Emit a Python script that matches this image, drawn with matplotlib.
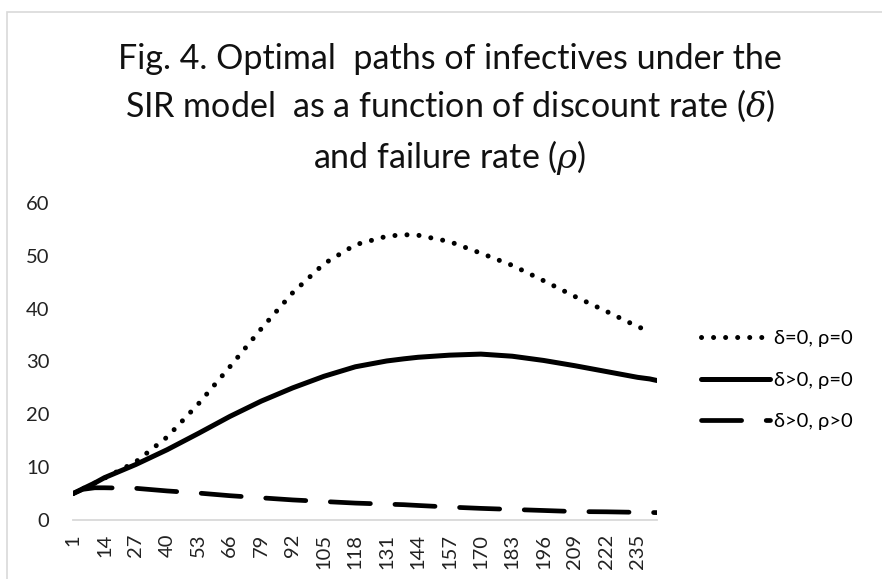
import matplotlib
matplotlib.use("Agg")
import matplotlib.pyplot as plt
from matplotlib.patches import Rectangle
import numpy as np

# day index of each read-off point
days = [1, 5, 10, 14, 27, 40, 53, 66, 79, 92, 105, 118, 131, 138, 144, 157,
        170, 183, 196, 209, 222, 235, 240, 243]

# delta=0, rho=0 (dotted)
d0_r0 = [5.0, 5.9, 7.0, 7.9, 11.0, 15.7, 22.0, 29.0, 36.2, 43.0, 48.5, 52.1,
         53.7, 54.0, 53.9, 52.7, 50.5, 48.2, 45.3, 42.3, 39.5, 36.6, 35.7, None]
# delta>0, rho=0 (solid)
dp_r0 = [5.0, 5.9, 7.0, 8.0, 10.5, 13.3, 16.4, 19.6, 22.5, 25.0, 27.2, 29.0,
         30.1, 30.5, 30.8, 31.2, 31.4, 31.0, 30.2, 29.2, 28.1, 27.0, 26.7, 26.4]
# delta>0, rho>0 (dashed)
dp_rp = [5.0, 5.8, 6.1, 6.1, 6.0, 5.5, 5.1, 4.6, 4.2, 3.8, 3.5, 3.2,
         3.0, 2.9, 2.75, 2.45, 2.2, 2.0, 1.8, 1.6, 1.55, 1.45, 1.42, 1.4]

labels = ["δ=0, ρ=0", "δ>0, ρ=0", "δ>0, ρ>0"]
xticks = list(range(1, 236, 13))
yticks = [0, 10, 20, 30, 40, 50, 60]

plt.rcParams['font.family'] = ['Lato', 'DejaVu Sans']
plt.rcParams['mathtext.fontset'] = 'dejavuserif'

fig = plt.figure(figsize=(8.82, 5.79), dpi=100)

# chart area border
fig.patches.append(Rectangle((7 / 882, -0.1), 1.2, 1.1 - 12 / 579,
                             transform=fig.transFigure, fill=False,
                             edgecolor="#d9d9d9", linewidth=1.2))

ax = fig.add_axes([73 / 882, 59 / 579, 584 / 882, 317 / 579])

x0 = [d for d, v in zip(days, d0_r0) if v is not None]
y0 = [v for v in d0_r0 if v is not None]
ax.plot(x0, y0, color="black", linewidth=3.6, linestyle=(0, (0.01, 2.4)),
        dash_capstyle="round", label=labels[0])
ax.plot(days, dp_r0, color="black", linewidth=3.6, solid_capstyle="round",
        label=labels[1])
ax.plot(days, dp_rp, color="black", linewidth=3.4, linestyle=(0, (8.5, 5.2)),
        dash_capstyle="round", label=labels[2])

ax.set_xlim(1, 243)
ax.set_ylim(0, 60)
ax.set_xticks(xticks)
ax.set_xticklabels([str(t) for t in xticks], rotation=90, fontsize=14.5,
                   color="#222222")
ax.set_yticks(yticks)
ax.set_yticklabels([str(t) for t in yticks], fontsize=14.5, color="#222222")
ax.tick_params(axis="y", length=0, pad=17)
ax.tick_params(axis="x", length=0, pad=10)
for s in ["top", "right", "left"]:
    ax.spines[s].set_visible(False)
ax.spines["bottom"].set_color("#d9d9d9")
ax.spines["bottom"].set_linewidth(1.3)

fig.legend(loc="center left", bbox_to_anchor=(691 / 882, 1 - 380 / 579),
           frameon=False, fontsize=14.5, handlelength=3.4, handletextpad=0.2,
           labelspacing=1.2, borderpad=0)

fig.text(0.51, 1 - 110 / 579,
         "Fig. 4. Optimal  paths of infectives under the\n"
         "SIR model  as a function of discount rate ($\\delta$)\n"
         "and failure rate ($\\rho$)",
         ha="center", va="center", fontsize=24.5, linespacing=1.45,
         color="#111111")

fig.savefig("out.png", dpi=100)
